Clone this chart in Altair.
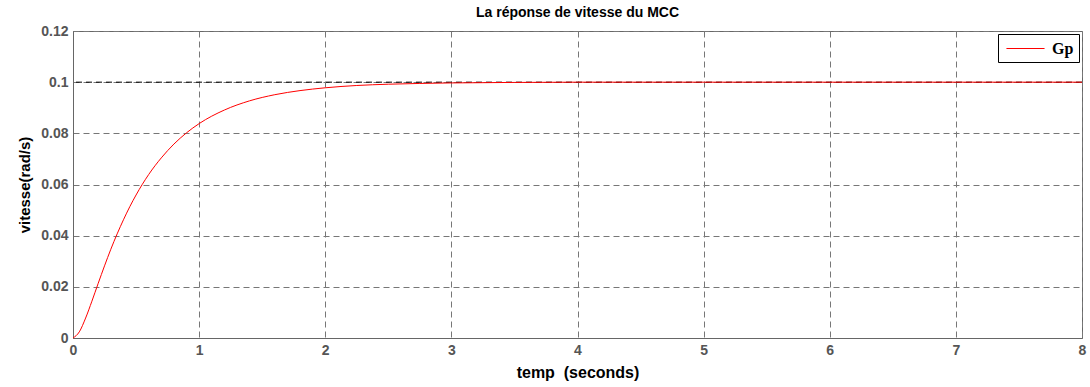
import altair as alt
import pandas as pd

# Speed step response of the DC motor (MCC), time in seconds
t_values = [0, 0.05, 0.1, 0.15, 0.2, 0.25, 0.3, 0.35, 0.4, 0.45, 0.5, 0.6, 0.7,
            0.8, 0.9, 1.0, 1.2, 1.4, 1.6, 1.8, 2.0, 2.25, 2.5, 2.75, 3.0, 3.5,
            4.0, 5.0, 6.0, 7.0, 8.0]
speed_values = [0, 0.0024, 0.0078, 0.0144, 0.0214, 0.0282, 0.0347, 0.0407,
                0.0462, 0.0513, 0.0559, 0.0639, 0.0704, 0.0758, 0.0802, 0.0838,
                0.0891, 0.0927, 0.0951, 0.0967, 0.0978, 0.0987, 0.0992, 0.0995,
                0.0997, 0.0999, 0.1, 0.1, 0.1, 0.1, 0.1]
series_name = ["Gp"]
reference_level = [0.1]

x_ticks = [0, 1, 2, 3, 4, 5, 6, 7, 8]
y_ticks = [0, 0.02, 0.04, 0.06, 0.08, 0.1, 0.12]

response = pd.DataFrame({"t": t_values, "v": speed_values,
                         "serie": series_name * len(t_values)})
level = pd.DataFrame({"v": reference_level})

FONT = "Liberation Sans"

x_scale = alt.Scale(domain=[0, 8], nice=False, zero=False)
y_scale = alt.Scale(domain=[0, 0.12], nice=False)

ref_rule = alt.Chart(level).mark_rule(
    color="black", strokeWidth=1, strokeDash=[6, 4]
).encode(y=alt.Y("v:Q", scale=y_scale))

curve = alt.Chart(response).mark_line(strokeWidth=1, interpolate="monotone").encode(
    x=alt.X("t:Q", scale=x_scale,
            axis=alt.Axis(values=x_ticks, title="temp \u00a0(seconds)",
                          labelExpr="format(datum.value, 'd')")),
    y=alt.Y("v:Q", scale=y_scale,
            axis=alt.Axis(values=y_ticks, title="vitesse(rad/s)",
                          labelExpr="format(datum.value, '.2~f')")),
    color=alt.Color("serie:N",
                    scale=alt.Scale(domain=series_name, range=["#ff0000"]),
                    legend=alt.Legend(title=None, orient="top-right", offset=3,
                                      strokeColor="black", fillColor="white",
                                      padding=5,
                                      # long horizontal line sample, short row height
                                      symbolType="M-2.2,0H2.2",
                                      symbolSize=300, symbolStrokeWidth=1,
                                      symbolStrokeColor="#ff0000",
                                      symbolOffset=13,
                                      labelFont="Liberation Serif",
                                      labelFontSize=16, labelFontWeight="bold",
                                      labelColor="black", labelOffset=17)),
)

chart = alt.layer(ref_rule, curve).properties(
    width=1009,
    height=307,
    title=alt.TitleParams("La réponse de vitesse du MCC", anchor="middle",
                          font=FONT, fontSize=14, fontWeight="bold",
                          color="black", frame="group", offset=4),
    autosize=alt.AutoSizeParams(type="none"),
    padding={"left": 73, "top": 31, "right": 8, "bottom": 49},
    background="white",
).configure_view(
    stroke="#666666", strokeWidth=1
).configure_axis(
    grid=True, gridColor="#777777", gridDash=[6, 4], gridWidth=1,
    domainColor="#666666", ticks=False, labelPadding=5, labelFlush=False,
    labelFont=FONT, labelFontSize=14, labelFontWeight="bold",
    labelColor="#555555", titleFont=FONT, titleFontSize=15,
    titleFontWeight="bold", titleColor="black",
).configure_axisX(titlePadding=7, titleFontSize=16).configure_axisY(titlePadding=8)

chart.save("out.html", embed_options={"renderer": "svg", "actions": False})
